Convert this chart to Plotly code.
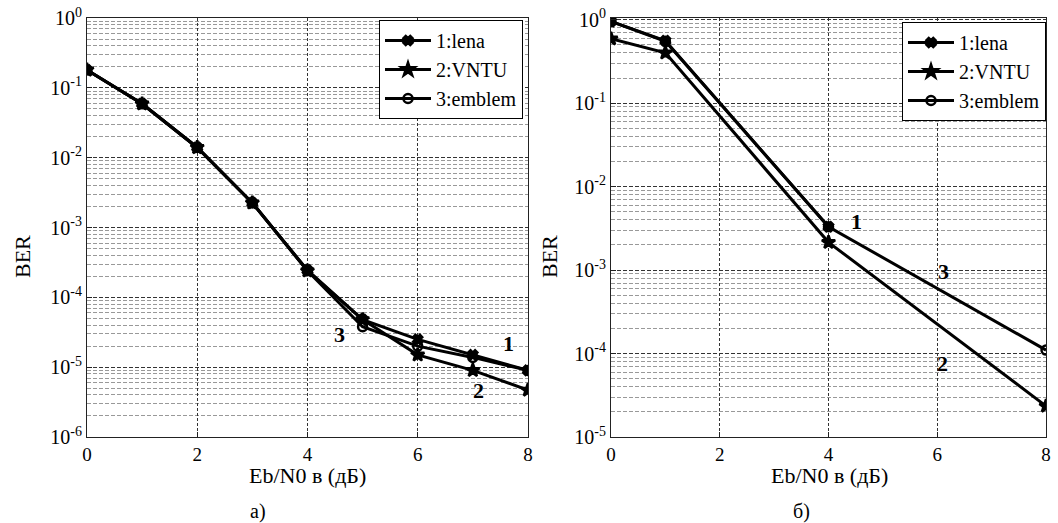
import plotly.graph_objects as go

# ---------------- data ----------------
snr_a = [0, 1, 2, 3, 4, 5, 6, 7, 8]
lena_a = [0.18, 0.059, 0.014, 2.25e-3, 2.45e-4, 4.8e-5, 2.5e-5, 1.5e-5, 9.0e-6]
vntu_a = [0.18, 0.059, 0.014, 2.25e-3, 2.4e-4, 4.8e-5, 1.5e-5, 9.0e-6, 4.7e-6]
emblem_a = [0.18, 0.059, 0.014, 2.25e-3, 2.4e-4, 3.8e-5, 2.0e-5, 1.38e-5, 9.0e-6]

snr_b_lena = [0, 1, 4]
lena_b = [0.95, 0.56, 3.3e-3]
snr_b = [0, 1, 4, 8]
vntu_b = [0.59, 0.40, 2.15e-3, 2.35e-5]
emblem_b = [0.95, 0.55, 3.3e-3, 1.1e-4]

names = ["1:lena", "2:VNTU", "3:emblem"]
x_ticks = [0, 2, 4, 6, 8]
y_ticks_a = [1, 1e-1, 1e-2, 1e-3, 1e-4, 1e-5, 1e-6]
y_text_a = ["10<sup>0</sup>", "10<sup>-1</sup>", "10<sup>-2</sup>", "10<sup>-3</sup>",
            "10<sup>-4</sup>", "10<sup>-5</sup>", "10<sup>-6</sup>"]
y_ticks_b = [1, 1e-1, 1e-2, 1e-3, 1e-4, 1e-5]
y_text_b = y_text_a[:6]

FONT = "Liberation Serif"
BLACK = "#000000"

fig = go.Figure()

def add(x, y, name, symbol, size, xa, ya, legend):
    fig.add_trace(go.Scatter(
        x=x, y=y, name=name, mode="lines+markers",
        line=dict(color=BLACK, width=3),
        marker=dict(symbol=symbol, size=size, color=BLACK,
                    line=dict(color=BLACK, width=2.5)),
        xaxis=xa, yaxis=ya, legend=legend,
    ))

add(snr_a, lena_a, names[0], "x", 8, "x", "y", "legend")
add(snr_a, vntu_a, names[1], "star", 10, "x", "y", "legend")
add(snr_a, emblem_a, names[2], "circle-open", 9, "x", "y", "legend")

add(snr_b_lena, lena_b, names[0], "x", 8, "x2", "y2", "legend2")
add(snr_b, vntu_b, names[1], "star", 10, "x2", "y2", "legend2")
add(snr_b, emblem_b, names[2], "circle-open", 9, "x2", "y2", "legend2")

grid_common = dict(showline=True, linecolor="#222", linewidth=1, mirror=True,
                   ticks="inside", ticklen=5, tickcolor="#222", automargin=False,
                   tickfont=dict(family=FONT, size=20, color=BLACK),
                   zeroline=False)

xaxis_common = dict(grid_common, range=[0, 8], tickvals=x_ticks,
                    tickfont=dict(family=FONT, size=19, color=BLACK),
                    showgrid=True, gridcolor="#333", gridwidth=1, griddash="3px,2px")

def yaxis(rng, tv, tt, domain_anchor):
    return dict(grid_common, type="log", range=rng, tickvals=tv, ticktext=tt,
                showgrid=True, gridcolor="#333", gridwidth=1, griddash="4px,2px",
                minor=dict(dtick="D1", showgrid=True, gridcolor="#999",
                           gridwidth=1, griddash="4px,2px", ticks=""),
                anchor=domain_anchor, domain=[0.1644, 0.9656])

legend_common = dict(xanchor="right", yanchor="top",
                     bgcolor="white", bordercolor=BLACK, borderwidth=1,
                     font=dict(family=FONT, size=20, color=BLACK),
                     tracegroupgap=0, itemwidth=46)

fig.update_layout(
    template="none",
    width=1058, height=523,
    margin=dict(l=0, r=0, t=0, b=0, autoexpand=False),
    paper_bgcolor="white", plot_bgcolor="white",
    font=dict(family=FONT, color=BLACK),
    xaxis=dict(xaxis_common, domain=[0.0822, 0.4990], anchor="y"),
    yaxis=yaxis([-6, 0], y_ticks_a, y_text_a, "x"),
    xaxis2=dict(xaxis_common, domain=[0.5775, 0.9887], anchor="y2"),
    yaxis2=yaxis([-5, 0.02], y_ticks_b, y_text_b, "x2"),
    legend=dict(legend_common, x=523 / 1058, y=1 - 20 / 523),
    legend2=dict(legend_common, x=1046 / 1058, y=1 - 22 / 523),
    showlegend=True,
)

def note(text, x, y, xref, yref, size=22):
    fig.add_annotation(text="<b>%s</b>" % text,
                       x=x, y=y, xref=xref, yref=yref, showarrow=False,
                       xanchor="center", yanchor="middle",
                       font=dict(family=FONT, size=size, color=BLACK))

# curve labels (log-axis annotations use log10 units)
note("3", 4.59, -4.53, "x", "y")
note("1", 7.64, -4.66, "x", "y")
note("2", 7.11, -5.34, "x", "y")
note("1", 4.52, -2.42, "x2", "y2")
note("3", 6.12, -3.02, "x2", "y2")
note("2", 6.10, -4.12, "x2", "y2")

# axis titles and panel captions
def ptext(text, px, py, size=22, angle=0):
    fig.add_annotation(text=text, x=px / 1058, y=1 - py / 523, xref="paper", yref="paper",
                       showarrow=False, textangle=angle,
                       xanchor="center", yanchor="middle",
                       font=dict(family=FONT, size=size, color=BLACK))

ptext("BER", 22, 257, angle=-90)
ptext("BER", 549, 257, angle=-90)
ptext("Eb/N0 в (дБ)", 307, 475)
ptext("Eb/N0 в (дБ)", 829, 475)
ptext("а)", 258, 511, size=20)
ptext("б)", 801, 511, size=20)

fig.write_html("out.html", config={"displayModeBar": False},
               post_script="document.body.style.margin='0';document.body.style.overflow='hidden';")
